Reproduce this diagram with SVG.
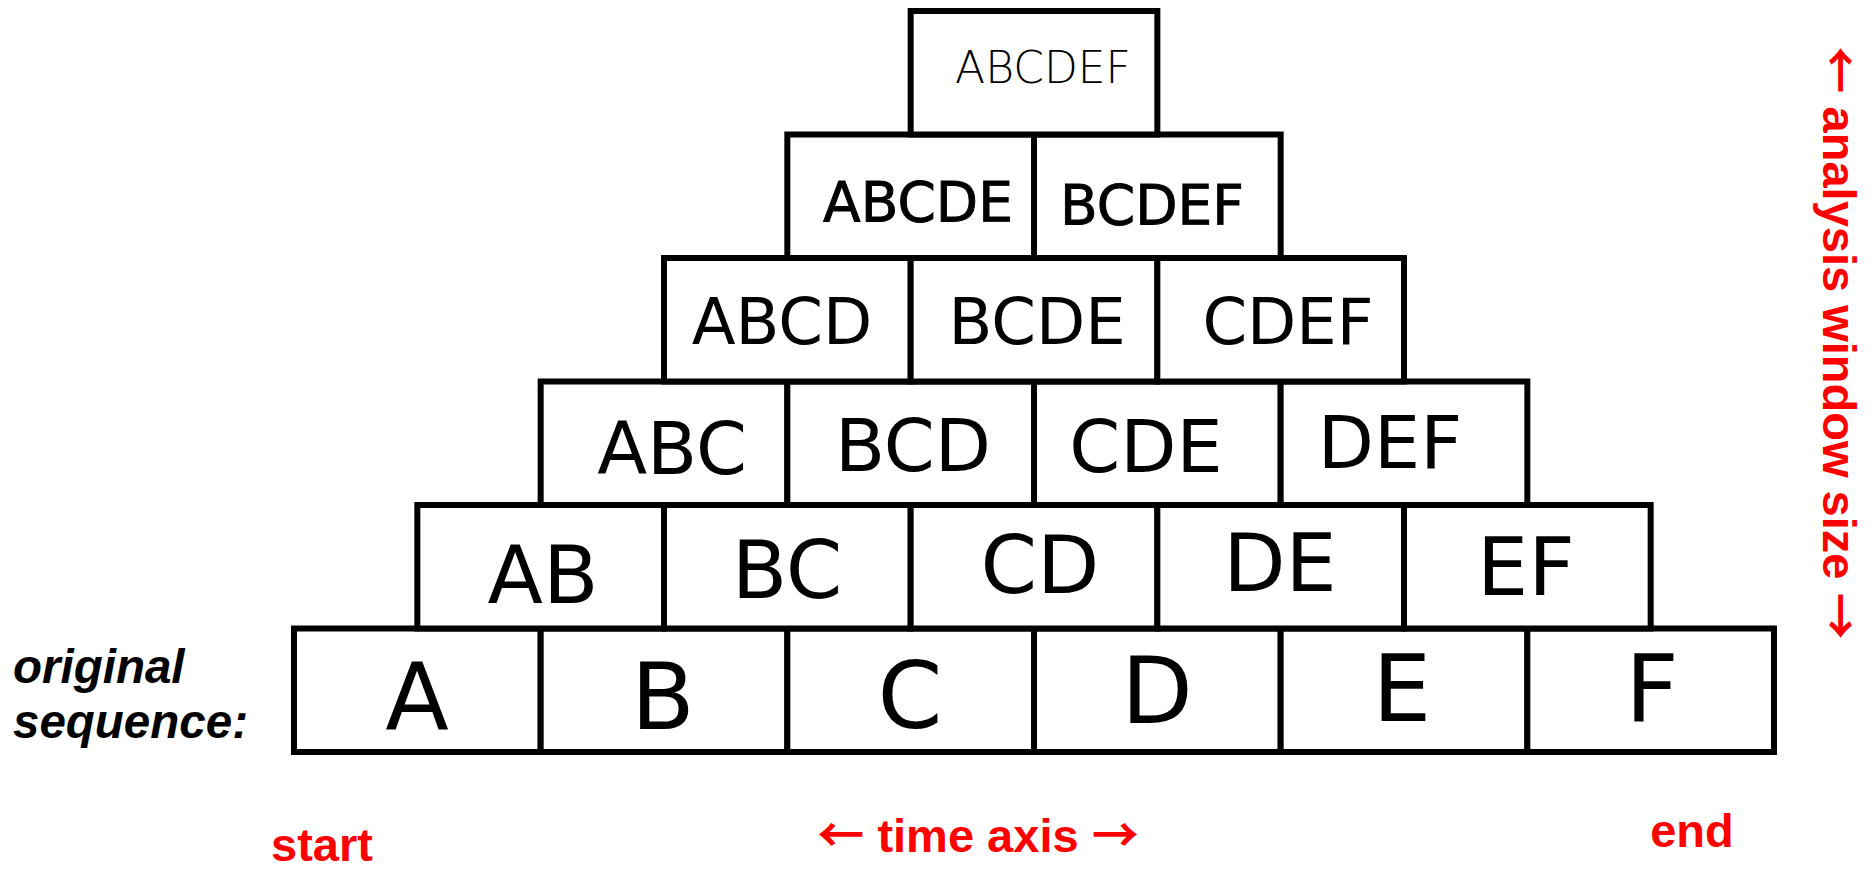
<svg xmlns="http://www.w3.org/2000/svg" width="1874" height="869" viewBox="0 0 1874 869">
<style>
.cell rect{fill:#fff;stroke:#000;stroke-width:6}
.cell text{font-family:"DejaVu Sans","Liberation Sans",sans-serif;fill:#000;text-anchor:middle}
.r0 text{font-size:93px}
.r1 text{font-size:81px}
.r2 text{font-size:73px}
.r3 text{font-size:64px}
.r4 text{font-size:55px;stroke:#000;stroke-width:0.9}
.r5 text{font-size:44px;font-weight:200}
.red{font-family:"Liberation Sans",Arial,sans-serif;font-weight:bold;font-size:47px;fill:#ff0000}
.arr{font-family:"Noto Sans CJK SC","DejaVu Sans",sans-serif;font-weight:bold}
.lbl{font-family:"Liberation Sans",Arial,sans-serif;font-weight:bold;font-style:italic;font-size:47.5px;fill:#000}
</style>
<rect x="0" y="0" width="1874" height="869" fill="#fff"/>
<g id="connectors"/>
<!-- row 0 -->
<g id="A" class="cell r0"><rect x="294" y="628.5" width="246.67" height="123.5"/><text x="417" y="729">A</text></g>
<g id="B" class="cell r0"><rect x="540.67" y="628.5" width="246.67" height="123.5"/><text x="663" y="729">B</text></g>
<g id="C" class="cell r0"><rect x="787.33" y="628.5" width="246.67" height="123.5"/><text x="910" y="728">C</text></g>
<g id="D" class="cell r0"><rect x="1034" y="628.5" width="246.67" height="123.5"/><text x="1157" y="723">D</text></g>
<g id="E" class="cell r0"><rect x="1280.67" y="628.5" width="246.67" height="123.5"/><text x="1402" y="721">E</text></g>
<g id="F" class="cell r0"><rect x="1527.33" y="628.5" width="246.67" height="123.5"/><text x="1652" y="721">F</text></g>
<!-- row 1 -->
<g id="AB" class="cell r1"><rect x="417.33" y="505" width="246.67" height="123.5"/><text x="543" y="603">AB</text></g>
<g id="BC" class="cell r1"><rect x="664" y="505" width="246.67" height="123.5"/><text x="787" y="598">BC</text></g>
<g id="CD" class="cell r1"><rect x="910.67" y="505" width="246.67" height="123.5"/><text x="1040" y="593">CD</text></g>
<g id="DE" class="cell r1"><rect x="1157.33" y="505" width="246.67" height="123.5"/><text x="1280" y="591">DE</text></g>
<g id="EF" class="cell r1"><rect x="1404" y="505" width="246.67" height="123.5"/><text x="1526" y="595">EF</text></g>
<!-- row 2 -->
<g id="ABC" class="cell r2"><rect x="540.67" y="381.5" width="246.67" height="123.5"/><text x="672" y="474">ABC</text></g>
<g id="BCD" class="cell r2"><rect x="787.33" y="381.5" width="246.67" height="123.5"/><text x="913" y="471">BCD</text></g>
<g id="CDE" class="cell r2"><rect x="1034" y="381.5" width="246.67" height="123.5"/><text x="1146" y="472">CDE</text></g>
<g id="DEF" class="cell r2"><rect x="1280.67" y="381.5" width="246.67" height="123.5"/><text x="1390" y="468">DEF</text></g>
<!-- row 3 -->
<g id="ABCD" class="cell r3"><rect x="664" y="258" width="246.67" height="123.5"/><text x="782" y="344">ABCD</text></g>
<g id="BCDE" class="cell r3"><rect x="910.67" y="258" width="246.67" height="123.5"/><text x="1037" y="344">BCDE</text></g>
<g id="CDEF" class="cell r3"><rect x="1157.33" y="258" width="246.67" height="123.5"/><text x="1288" y="344">CDEF</text></g>
<!-- row 4 -->
<g id="ABCDE" class="cell r4"><rect x="787.33" y="134.5" width="246.67" height="123.5"/><text x="918" y="221">ABCDE</text></g>
<g id="BCDEF" class="cell r4"><rect x="1034" y="134.5" width="246.67" height="123.5"/><text x="1152" y="224">BCDEF</text></g>
<!-- row 5 -->
<g id="ABCDEF" class="cell r5"><rect x="910.67" y="11" width="246.67" height="123.5"/><text x="1043" y="83">ABCDEF</text></g>
<!-- labels -->
<g id="original-sequence">
<text class="lbl" x="13" y="683">original</text>
<text class="lbl" x="13" y="738">sequence:</text>
</g>
<g id="axis-labels">
<text class="red" x="322" y="861" text-anchor="middle">start</text>
<text class="red" x="978" y="852" text-anchor="middle"><tspan class="arr">←</tspan> time axis <tspan class="arr">→</tspan></text>
<text class="red" x="1692" y="847" text-anchor="middle">end</text>
<text class="red" transform="translate(1823,343) rotate(90)" text-anchor="middle"><tspan class="arr">←</tspan> analysis window size <tspan class="arr">→</tspan></text>
</g>
</svg>
